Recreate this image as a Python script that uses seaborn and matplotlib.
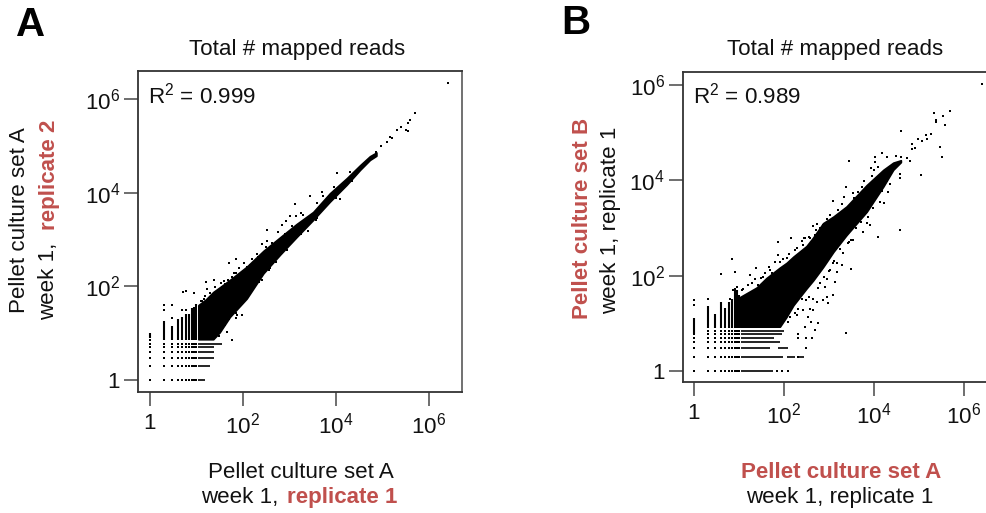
import numpy as np
import pandas as pd
import matplotlib
matplotlib.use("Agg")
import matplotlib.pyplot as plt
import seaborn as sns

# values below are log10(reads)
tick_values = [1, 100, 10000, 1000000]
tick_labels = ["1", "$10^{2}$", "$10^{4}$", "$10^{6}$"]
low_counts = [1, 2, 3, 4, 5, 6, 7, 8, 9, 10]

# panel A: dense cloud outline
core_x_a = [1.04, 1.20, 1.36, 1.50, 1.72, 2.08, 2.44, 2.80, 3.15, 3.51, 3.87, 4.23, 4.52, 4.73, 4.87]
core_low_a = [0.87, 0.87, 0.87, 1.02, 1.35, 1.74, 2.28, 2.68, 3.05, 3.42, 3.81, 4.17, 4.49, 4.70, 4.79]
core_high_a = [1.60, 1.72, 1.88, 1.98, 2.14, 2.42, 2.76, 3.05, 3.33, 3.59, 3.99, 4.31, 4.59, 4.78, 4.86]

# panel A: integer rows and columns at low counts (counts, not log10)
row_y_a = [1, 2, 3, 4, 5, 6]
row_end_a = [15, 20, 24, 24, 24, 35]
col_x_a = [1, 2, 3, 4, 5, 6, 7, 8, 9, 10]
col_low_a = [8, 7, 7, 7, 7, 7, 7, 7, 7, 7]
col_high_a = [10, 18, 14, 20, 22, 26, 26, 35, 37, 42]
extra_x_a = [2, 2, 3, 3, 5, 6, 1, 1, 1, 1]
extra_y_a = [31, 40, 21, 40, 32, 32, 7, 6, 5, 4]

# panel A: scattered points around the cloud
out_x_a = [0.70, 0.77, 0.95, 1.21, 1.38, 1.71, 1.86, 2.40, 2.51, 2.51, 2.76, 1.23, 1.16, 1.29, 1.11, 1.22,
           1.45, 1.49, 1.76, 1.65, 1.97, 1.85, 1.72, 1.88, 1.51, 1.58, 1.68, 1.86, 2.08, 2.24, 1.47, 1.61,
           1.54, 1.76, 1.97, 2.15, 2.33, 1.79, 1.94, 2.15, 2.40, 2.65, 2.58, 2.94,
           6.42, 5.71, 5.59, 5.55, 5.39, 5.32, 5.51, 5.54, 5.21, 5.16, 5.09, 4.97, 4.87, 4.03, 3.71, 3.44,
           3.73, 4.09, 3.12, 3.24, 3.15, 3.01, 2.92, 2.83, 3.40, 3.58,
           1.10, 1.18, 1.30, 1.40, 1.52, 1.60, 1.80, 1.92, 2.02, 2.20, 2.30, 2.50, 2.62, 2.90, 3.05, 3.30,
           3.60, 3.95, 4.30, 1.55, 1.62, 1.70, 1.84, 2.00, 2.22, 2.34, 2.55, 2.70, 3.00, 3.25, 3.60, 4.00, 4.35]
out_y_a = [1.88, 1.91, 1.85, 2.09, 2.14, 2.49, 2.58, 2.90, 2.97, 3.20, 3.17, 1.94, 1.74, 1.67, 1.69, 1.50,
           1.03, 0.93, 0.85, 1.03, 1.39, 1.32, 1.39, 1.39, 1.17, 1.96, 2.14, 2.28, 2.42, 2.53, 1.85, 2.06,
           1.99, 2.21, 2.31, 2.46, 2.63, 1.50, 1.60, 1.85, 2.14, 2.49, 2.39, 2.78,
           6.34, 5.71, 5.56, 5.50, 5.41, 5.34, 5.34, 5.31, 5.16, 5.20, 5.09, 4.99, 4.86, 4.42, 4.02, 3.92,
           3.92, 3.86, 3.76, 3.56, 3.50, 3.51, 3.40, 3.31, 3.18, 3.42,
           1.68, 1.80, 1.86, 1.98, 2.08, 2.12, 2.28, 2.40, 2.50, 2.58, 2.70, 2.85, 2.93, 3.12, 3.30, 3.52,
           3.78, 4.12, 4.44, 1.20, 1.18, 1.30, 1.44, 1.66, 1.96, 2.10, 2.36, 2.52, 2.88, 3.12, 3.46, 3.88, 4.26]

# panel B: dense cloud outline
core_x_b = [1.02, 1.39, 1.61, 1.91, 2.06, 2.21, 2.50, 2.65, 2.87, 3.10, 3.39, 3.84, 4.21, 4.43, 4.60]
core_low_b = [0.93, 0.93, 0.93, 0.93, 1.14, 1.38, 1.73, 1.90, 2.18, 2.50, 2.85, 3.34, 3.87, 4.22, 4.38]
core_high_b = [1.55, 1.75, 1.95, 2.17, 2.27, 2.40, 2.62, 2.80, 3.10, 3.24, 3.45, 3.90, 4.22, 4.37, 4.42]

# panel B: integer rows and columns
row_y_b = [1, 2, 3, 4, 5, 6, 7]
row_end_b = [58, 93, 49, 81, 60, 89, 100]
col_x_b = [1, 2, 3, 4, 5, 6, 7, 8, 9, 10]
col_low_b = [6, 8, 8, 8, 8, 8, 8, 8, 8, 8]
col_high_b = [13, 23, 16, 28, 21, 28, 32, 54, 50, 40]
extra_x_b = [1, 1, 2, 71, 91, 123, 209, 309, 427, 209, 309, 209]
extra_y_b = [24, 31, 33, 1, 1, 1, 5, 5, 5, 6, 3, 2]
seg_y_b = [2, 2, 3]
seg_start_b = [117, 204, 74]
seg_end_b = [174, 275, 126]

# panel B: scattered points
out_x_b = [1.87, 0.85, 0.61, 0.91, 1.38, 1.86, 2.16, 2.47, 2.64, 3.17, 3.50, 3.39, 1.67, 1.73, 1.54, 1.43,
           1.24, 1.36, 1.06, 0.95, 0.87, 0.80, 1.91, 2.06, 2.24, 2.43, 2.69, 2.80, 2.65, 2.87, 2.99, 3.10,
           2.91, 3.13, 2.80, 2.65, 2.54, 2.73, 2.61, 2.50, 2.32, 2.24, 2.43, 2.58, 2.13, 2.61, 2.76, 2.47,
           2.69, 2.95, 3.50, 3.43, 3.32, 3.17, 3.28, 3.10, 3.02, 2.95,
           6.41, 5.69, 5.34, 5.53, 5.39, 5.37, 5.57, 4.60, 5.28, 5.16, 5.19, 4.97, 5.06, 4.85, 4.91, 4.84,
           5.47, 5.52, 5.04, 4.18, 4.28, 4.02, 4.49, 4.61, 4.73, 4.80, 4.02, 3.93, 4.00, 3.45, 3.37, 3.73,
           3.54, 3.08, 3.34, 2.73, 2.64, 2.87, 2.45, 2.58, 4.58, 4.08, 4.59, 4.58, 4.32, 4.23, 3.84, 3.76,
           3.54, 3.32, 3.91, 3.87, 4.36, 4.13, 3.98,
           1.10, 1.20, 1.30, 1.48, 1.58, 1.70, 1.80, 1.98, 2.12, 2.30, 2.40, 2.55, 2.72, 2.95, 3.02, 3.20,
           3.30, 3.55, 3.65, 3.78, 3.95, 4.10, 2.10, 2.30, 2.40, 2.55, 2.75, 2.90, 3.00, 3.12, 3.25, 3.45,
           3.60, 3.72, 3.92, 4.05, 4.18, 4.30]
out_y_b = [2.71, 2.35, 2.03, 2.08, 2.17, 2.43, 2.78, 2.78, 3.04, 2.08, 2.14, 0.79, 2.19, 2.05, 1.98, 1.80,
           2.01, 1.92, 1.70, 1.77, 1.70, 1.52, 2.29, 2.36, 2.54, 2.64, 2.85, 2.99, 1.52, 1.49, 1.42, 1.59,
           1.77, 1.87, 1.84, 1.28, 1.14, 1.45, 1.98, 1.49, 1.31, 1.21, 1.28, 1.31, 1.14, 1.03, 1.00, 0.92,
           0.86, 1.56, 2.75, 2.68, 2.47, 2.26, 2.22, 2.26, 2.12, 1.94,
           6.02, 5.46, 5.42, 5.35, 5.26, 5.23, 5.16, 5.03, 4.98, 4.95, 4.86, 4.86, 4.82, 4.76, 4.68, 4.65,
           4.70, 4.49, 4.12, 4.58, 4.49, 4.48, 4.51, 4.48, 4.46, 4.41, 4.39, 4.25, 4.22, 4.40, 3.86, 3.86,
           3.73, 3.57, 3.65, 3.09, 3.04, 3.06, 2.78, 2.78, 2.96, 2.80, 4.14, 4.04, 3.76, 3.52, 3.10, 2.92,
           2.75, 2.47, 3.06, 3.23, 3.93, 3.55, 3.41,
           1.72, 1.80, 1.85, 1.96, 2.05, 2.12, 2.28, 2.34, 2.45, 2.58, 2.72, 2.82, 2.95, 3.18, 3.28, 3.38,
           3.50, 3.62, 3.75, 3.98, 4.08, 4.28, 1.02, 1.18, 1.50, 1.56, 1.75, 1.98, 2.10, 2.30, 2.55, 2.70,
           3.00, 3.12, 3.55, 3.65, 3.78, 3.98]

RED = "#C0504D"
W, H = 987, 513
FS = 16.1


def fig_text(fig, px, py, s, **kw):
    fig.text(px / W, 1 - py / H, s, **kw)


def draw_panel(fig, box, xlim, ylim, core, rows, cols, extra, out, r2):
    left, top, right, bottom = box
    ax = fig.add_axes([left / W, 1 - bottom / H, (right - left) / W, (bottom - top) / H])
    ax.set_xscale("log")
    ax.set_yscale("log")

    core_x, core_low, core_high = core
    ax.fill_between(10 ** np.array(core_x), 10 ** np.array(core_low), 10 ** np.array(core_high),
                    facecolor="black", edgecolor="black", linewidth=1.2)

    # lattice of integer counts
    row_y, row_end = rows
    ax.hlines(row_y, 11, row_end, color="black", lw=1.2)
    col_x, col_low, col_high = cols
    ax.vlines(col_x, col_low, col_high, color="black", lw=1.5)
    grid = pd.DataFrame([(a, b) for a in low_counts for b in row_y], columns=["x", "y"])
    sns.scatterplot(data=grid, x="x", y="y", marker="s", s=3.2, color="black", linewidth=0, ax=ax)

    ex = pd.DataFrame({"x": extra[0], "y": extra[1]})
    sns.scatterplot(data=ex, x="x", y="y", marker="s", s=3.5, color="black", linewidth=0, ax=ax)

    pts = pd.DataFrame({"x": 10 ** np.array(out[0]), "y": 10 ** np.array(out[1])})
    sns.scatterplot(data=pts, x="x", y="y", marker="s", s=3.8, color="black", linewidth=0, ax=ax)

    ax.set_xlim(10 ** xlim[0], 10 ** xlim[1])
    ax.set_ylim(10 ** ylim[0], 10 ** ylim[1])
    ax.set_xticks(tick_values, tick_labels)
    ax.set_yticks(tick_values, tick_labels)
    ax.minorticks_off()
    ax.set_xlabel("")
    ax.set_ylabel("")
    ax.tick_params(axis="both", length=10, width=1.2, color="#555555", labelsize=FS,
                   labelcolor="#111111", pad=3, left=True, bottom=True)
    ax.tick_params(axis="x", pad=5)
    for sp in ax.spines.values():
        sp.set_color("#333333")
        sp.set_linewidth(1.3)
    ax.spines["right"].set_color("#666666")
    ax.text(0.032, 0.925, r2, transform=ax.transAxes, fontsize=FS, va="center", color="#111111")
    return ax


sns.set_theme(style="white")
plt.rcParams["font.family"] = ["Liberation Sans", "DejaVu Sans"]
plt.rcParams["mathtext.default"] = "regular"

fig = plt.figure(figsize=(W / 100, H / 100), dpi=100)

draw_panel(fig, (138, 71, 461.5, 392), (-0.258, 6.70), (-0.256, 6.60),
           (core_x_a, core_low_a, core_high_a), (row_y_a, row_end_a), (col_x_a, col_low_a, col_high_a),
           (extra_x_a, extra_y_a), (out_x_a, out_y_a), "R$^{2}$ = 0.999")
draw_panel(fig, (682.7, 72, 994, 382), (-0.251, 6.67), (-0.23, 6.27),
           (core_x_b, core_low_b, core_high_b), (row_y_b, row_end_b), (col_x_b, col_low_b, col_high_b),
           (extra_x_b, extra_y_b), (out_x_b, out_y_b), "R$^{2}$ = 0.989")

# segments on panel B rows that break off from the main run
ax_b = fig.axes[1]
ax_b.hlines(seg_y_b, seg_start_b, seg_end_b, color="black", lw=1.2)

txt = dict(fontsize=FS, color="#111111")
bold = dict(fontsize=FS, color=RED, fontweight="bold")

fig_text(fig, 16, 36, "A", fontsize=29, fontweight="bold", color="black", va="baseline")
fig_text(fig, 561, 34, "B", fontsize=29, fontweight="bold", color="black", va="baseline")
fig_text(fig, 297, 49, "Total # mapped reads", ha="center", va="center", **txt)
fig_text(fig, 835, 49, "Total # mapped reads", ha="center", va="center", **txt)

# panel A labels
fig_text(fig, 301, 472, "Pellet culture set A", ha="center", va="center", **txt)
fig_text(fig, 285, 497, "week 1, ", ha="right", va="center", **txt)
fig_text(fig, 287, 497, "replicate 1", ha="left", va="center", **bold)
fig_text(fig, 20, 220, "Pellet culture set A", rotation=90, ha="center", va="center", **txt)
fig_text(fig, 49, 320, "week 1,", rotation=90, ha="center", va="bottom", **txt)
fig_text(fig, 49, 230, "replicate 2", rotation=90, ha="center", va="bottom", **bold)

# panel B labels
fig_text(fig, 841, 472, "Pellet culture set A", ha="center", va="center", **bold)
fig_text(fig, 840, 498, "week 1, replicate 1", ha="center", va="center", **txt)
fig_text(fig, 582, 218, "Pellet culture set B", rotation=90, ha="center", va="center", **bold)
fig_text(fig, 611, 220, "week 1, replicate 1", rotation=90, ha="center", va="center", **txt)

fig.savefig("out.png", dpi=100)
